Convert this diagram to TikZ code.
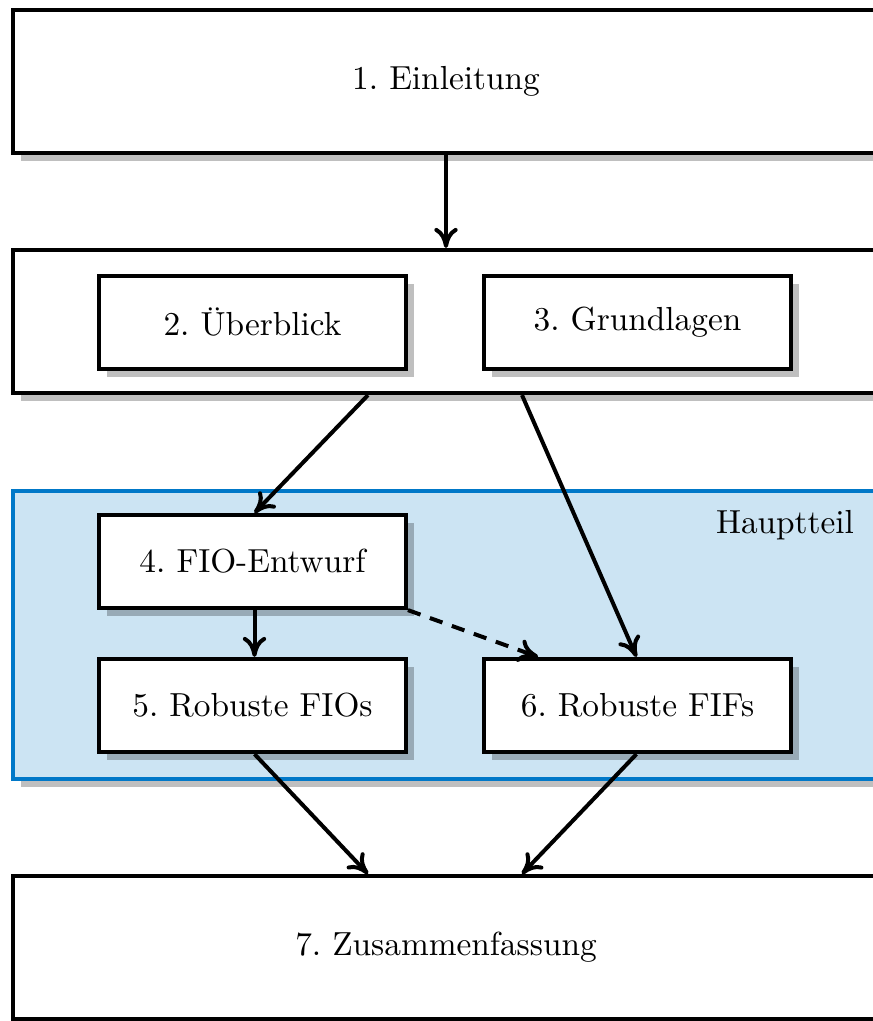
\documentclass[tikz,border=0pt]{standalone}
\usetikzlibrary{shadows,calc,arrows.meta}
\definecolor{partfill}{HTML}{CCE4F3}
\definecolor{partline}{HTML}{0078C8}
\frenchspacing
\begin{document}
\begin{tikzpicture}[x=0.3pt,y=-0.3pt,
  shadowed/.style={drop shadow={shadow xshift=2.4pt,shadow yshift=-2.4pt,fill=black,opacity=0.25}},
  bigbox/.style={draw,line width=1.25pt,fill=white,shadowed,minimum width=259.8pt,minimum height=42.9pt,inner sep=0pt},
  chapbox/.style={draw,line width=1.25pt,fill=white,shadowed,minimum width=92pt,minimum height=27.9pt,inner sep=0pt},
  link/.style={-{Computer Modern Rightarrow[length=6pt,width=7pt]},line width=1.2pt},
  every node/.style={font=\normalsize}]
\useasboundingbox (0,0) rectangle (873,1021);

% frame chapters
\node[bigbox] (einl) at (446,81.5) {1. Einleitung};
\node[bigbox] (basis) at (446,321.5) {};
\node[chapbox] (ueber) at (252.5,322.5) {2. Überblick};
\node[chapbox] (grund) at (637.5,322.5) {3. Grundlagen};

% main part
\node[draw=partline,fill=partfill,line width=1.2pt,shadowed,minimum width=263.1pt,minimum height=86.4pt,inner sep=0pt,outer sep=0pt,anchor=north west] (haupt) at (13,491) {};
\node (hlabel) at (785,525) {Hauptteil};
\node[chapbox] (fio) at (252.5,561.5) {4. FIO-Entwurf};
\node[chapbox] (rfio) at (252.5,705.5) {5. Robuste FIOs};
\node[chapbox] (rfif) at (637.5,705.5) {6. Robuste FIFs};

\node[bigbox] (zus) at (446,947.5) {7. Zusammenfassung};

% reading order
\draw[link] (einl.south) -- (basis.north);
\draw[link] ($(basis.south)+(-78,0)$) -- ($(fio.north)+(2,0)$);
\draw[link] ($(basis.south)+(76,0)$) -- ($(rfif.north)+(-1,0)$);
\draw[link] ($(fio.south)+(2,0)$) -- ($(rfio.north)+(2,0)$);
\draw[link,dashed,dash pattern=on 4pt off 3pt] (fio.south east) -- ($(rfif.north west)+(56,0)$);
\draw[link] ($(rfio.south)+(2,0)$) -- ($(zus.north)+(-78,0)$);
\draw[link] ($(rfif.south)+(-1,0)$) -- ($(zus.north)+(76,0)$);
\end{tikzpicture}
\end{document}
